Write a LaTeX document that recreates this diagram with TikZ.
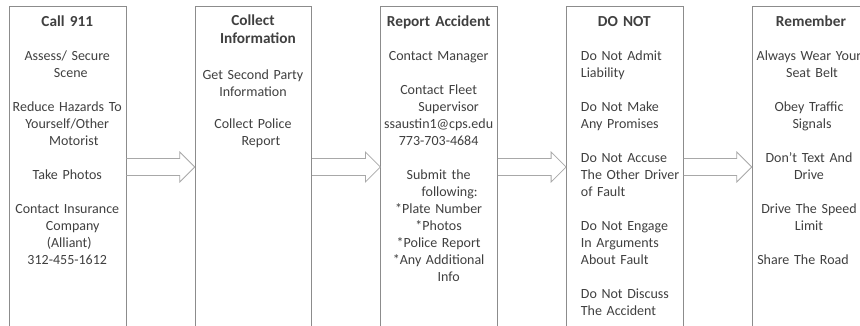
\documentclass[tikz,border=0pt]{standalone}
\usepackage{fontspec}
\newfontfamily\calib{Carlito}
\usetikzlibrary{calc}
\definecolor{txt}{HTML}{404040}
\definecolor{boxline}{HTML}{8C8C8C}
\definecolor{arrline}{HTML}{A8A8A8}
\begin{document}
\begin{tikzpicture}[x=1pt,y=-1pt,
  stepbox/.style={draw=boxline,line width=0.9pt,minimum width=116.5pt,minimum height=340pt,anchor=north west,inner sep=0pt},
  titletext/.style={font=\calib\bfseries\fontsize{15.3}{18}\selectfont,text=txt,align=center,text width=130pt,inner sep=0pt,anchor=base},
  bodytext/.style={font=\calib\fontsize{14}{17}\selectfont,text=txt,align=center,text width=130pt,inner sep=0pt,anchor=base},
  bodyleft/.style={bodytext,align=left,text width=110pt,anchor=base west},
  blockarrow/.style={draw=arrline,line width=0.8pt,line join=miter}]
\useasboundingbox (0,0) rectangle (860,326);
\fill[white] (0,0) rectangle (860,326);
\clip (0,0) rectangle (860,326);
% boxes
\node[stepbox] (b1) at (9,6) {};
\node[stepbox] (b2) at (194.7,6) {};
\node[stepbox] (b3) at (380.4,6) {};
\node[stepbox] (b4) at (566.1,6) {};
\node[stepbox] (b5) at (751.8,6) {};
% arrows
\foreach \i/\j in {1/2,2/3,3/4,4/5}{
  \coordinate (s\i) at ([yshift=-161pt]b\i.north east);
  \coordinate (e\i) at ([yshift=-161pt]b\j.north west);
  \draw[blockarrow] ($(s\i)+(0,-8.5)$) -- ($(e\i)+(-15,-8.5)$) -- ($(e\i)+(-15,-15)$) -- (e\i)
     -- ($(e\i)+(-15,15)$) -- ($(e\i)+(-15,8.5)$) -- ($(s\i)+(0,8.5)$);
}
% box 1
\node[titletext] (t1) at (67.25,26.5) {Call 911};
\node[bodytext] (c1) at (67.25,60.5) {Assess/ Secure\\\hspace*{7pt}Scene\\[17pt]Reduce Hazards To\\Yourself/Other\\\hspace*{13pt}Motorist\\[17pt]Take Photos\\[17pt]Contact Insurance\\\hspace*{11pt}Company\\\hspace*{4pt}(Alliant)\\312-455-1612};
% box 2
\node[titletext] (t2) at (252.95,25.5) {Collect\\\hspace*{10pt}Information};
\node[bodytext] (c2) at (252.95,80) {Get Second Party\hspace*{12pt}\\Information\\[15pt]Collect Police\\\hspace*{16pt}Report};
% box 3
\node[titletext] (t3) at (438.65,26.5) {Report Accident};
\node[bodytext] (c3) at (438.65,60.5) {Contact Manager\\[17pt]Contact Fleet\\\hspace*{20pt}Supervisor\\ssaustin1@cps.edu\\773-703-4684\\[17pt]Submit the\\\hspace*{22pt}following:\\{}*Plate Number\hspace*{6pt}\\{}*Photos\hspace*{8pt}\\{}*Police Report\\{}*Any Additional\\\hspace*{20pt}Info};
% box 4
\node[titletext] (t4) at (624.35,26.5) {DO NOT};
\node[bodyleft] (c4) at (580.7,60.5) {Do Not Admit\\Liability\\[17pt]Do Not Make\\Any Promises\\[17pt]Do Not Accuse\\The Other Driver\\of Fault\\[17pt]Do Not Engage\\In Arguments\\About Fault\\[17pt]Do Not Discuss\\The Accident};
% box 5
\node[titletext] (t5) at (811,26.5) {Remember};
\node[bodytext] (c5) at (809,60.5) {Always Wear Your\\\hspace*{6pt}Seat Belt\\[17pt]Obey Traffic\hspace*{10pt}\\\hspace*{6pt}Signals\\[17pt]Don’t Text And\hspace*{10pt}\\Drive\hspace*{3pt}\\[17pt]Drive The Speed\hspace*{12pt}\\Limit\hspace*{7pt}\\[17pt]Share The Road\hspace*{12pt}};
\end{tikzpicture}
\end{document}
